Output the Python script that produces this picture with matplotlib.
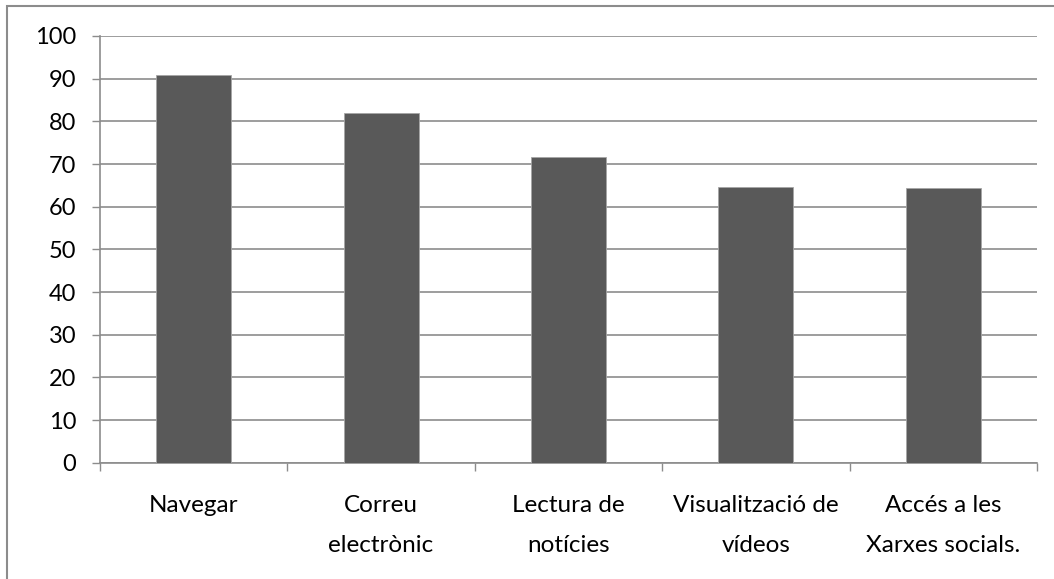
import matplotlib.pyplot as plt
from matplotlib.patches import Rectangle

# === DATOS ===
categorias = [
    "Navegar",
    "Correu\nelectrònic",
    "Lectura de\nnotícies",
    "Visualització de\nvídeos",
    "Accés a les\nXarxes socials.",
]
valores = [90.9, 81.9, 71.6, 64.5, 64.3]
y_ticks = list(range(0, 101, 10))

plt.rcParams["font.family"] = ["Lato", "DejaVu Sans"]

W, H = 1054, 579
fig = plt.figure(figsize=(W / 100, H / 100), dpi=100)
ax = fig.add_axes([100 / W, 1 - 462.7 / H, (1037 - 100) / W, (462.7 - 36) / H])

# marco del gráfico (recortado a derecha y abajo)
fig.patches.append(Rectangle((7 / W, -0.05), 1.2, 1 - 6 / H + 0.05,
                             transform=fig.transFigure, fill=False,
                             edgecolor="#8c8c8c", linewidth=1.5))

x = list(range(len(categorias)))
ax.bar(x, valores, width=0.4, color="#595959", edgecolor="#a6a6a6",
       linewidth=0.6, zorder=3)

ax.set_xlim(-0.5, len(categorias) - 0.5)
ax.set_ylim(0, 100)
ax.set_yticks(y_ticks)
ax.yaxis.grid(True, color="#8c8c8c", linewidth=1.2, zorder=0)

# ticks en los límites de categoría, etiquetas en el centro
ax.set_xticks([i - 0.5 for i in range(len(categorias) + 1)])
ax.set_xticklabels([])
ax.set_xticks(x, minor=True)
ax.set_xticklabels(categorias, minor=True, fontsize=17.5, linespacing=2.15,
                   va="top")
ax.tick_params(axis="x", which="major", length=6, width=1, color="#8c8c8c",
               direction="out")
ax.tick_params(axis="x", which="minor", length=0, pad=23)
ax.tick_params(axis="y", length=6, width=1, color="#8c8c8c", labelsize=17,
               pad=11)

for s in ["top", "right"]:
    ax.spines[s].set_visible(False)
for s in ["left", "bottom"]:
    ax.spines[s].set_color("#8c8c8c")
    ax.spines[s].set_linewidth(1.2)

fig.savefig("out.png", dpi=100)
